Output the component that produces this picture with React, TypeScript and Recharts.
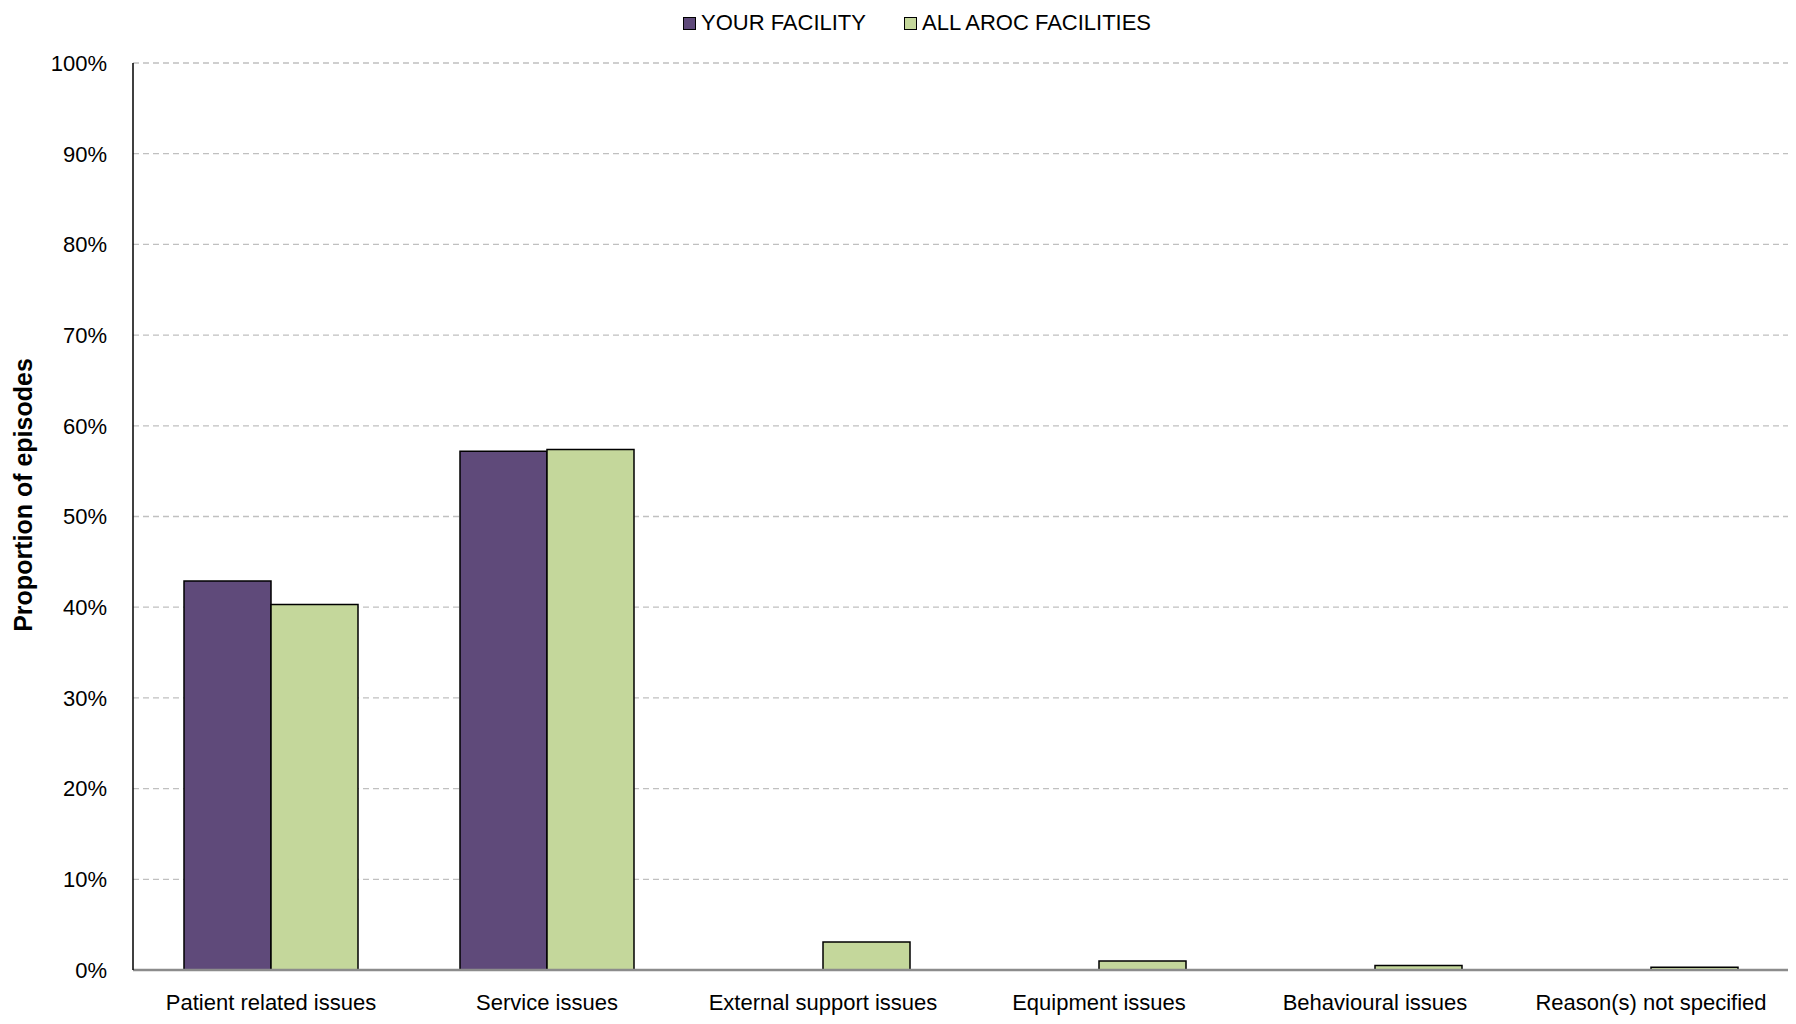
import React from 'react';
import { BarChart, Bar, XAxis, YAxis, CartesianGrid, Legend } from 'recharts';

const categories = [
  'Patient related issues',
  'Service issues',
  'External support issues',
  'Equipment issues',
  'Behavioural issues',
  'Reason(s) not specified',
];
const yourFacility = [42.9, 57.2, 0, 0, 0, 0];
const allFacilities = [40.3, 57.4, 3.1, 1.0, 0.5, 0.3];
const yTicks = [0, 10, 20, 30, 40, 50, 60, 70, 80, 90, 100];
const seriesNames = ['YOUR FACILITY', 'ALL AROC FACILITIES'];
const seriesColors = ['#5F4A7A', '#C4D79B'];

const data = categories.map((c, i) => ({ name: c, your: yourFacility[i], all: allFacilities[i] }));

const FONT = '"Liberation Sans Narrow", "Arial Narrow", "Liberation Sans", Arial, sans-serif';

const LegendContent = () => (
  <div style={{ display: 'flex', justifyContent: 'center', alignItems: 'center', fontFamily: FONT, fontSize: 22, color: '#000', paddingLeft: 30 }}>
    {seriesNames.map((n, i) => (
      <div key={n} style={{ display: 'flex', alignItems: 'center', marginRight: i === 0 ? 38 : 0 }}>
        <span style={{ display: 'inline-block', width: 11, height: 11, background: seriesColors[i], border: '1.5px solid #000', marginRight: 5 }} />
        <span>{n}</span>
      </div>
    ))}
  </div>
);

const YLabel = () => (
  <text
    x={24}
    y={487}
    transform="rotate(-90, 24, 487)"
    textAnchor="middle"
    fontFamily={FONT}
    fontWeight="bold"
    fontSize={25}
    fill="#000"
  >
    Proportion of episodes
  </text>
);

export default function App() {
  return (
    <BarChart
      width={1788}
      height={1016}
      data={data}
      margin={{ top: 55, right: 7, bottom: 0, left: 0 }}
      barCategoryGap={51}
      barGap={0}
    >
      <CartesianGrid vertical={false} stroke="#C0C0C0" strokeDasharray="6 4" strokeWidth={1.3} />
      <XAxis
        dataKey="name"
        height={54}
        tickSize={0}
        tickMargin={24}
        stroke="#8C8C8C"
        strokeWidth={2.5}
        tick={{ fontFamily: FONT, fontSize: 22, fill: '#000' }}
        interval={0}
      />
      <YAxis
        width={125}
        domain={[0, 100]}
        ticks={yTicks}
        tickFormatter={(v) => `${v}%`}
        tickSize={0}
        tickMargin={26}
        stroke="#000"
        strokeWidth={1.5}
        tick={{ fontFamily: FONT, fontSize: 22, fill: '#000' }}
        label={<YLabel />}
      />
      <Legend
        verticalAlign="middle"
        align="center"
        layout="horizontal"
        wrapperStyle={{ top: 2, left: 0, width: 1788 }}
        content={<LegendContent />}
      />
      <Bar dataKey="your" name={seriesNames[0]} fill={seriesColors[0]} stroke="#000" strokeWidth={1.5} isAnimationActive={false} />
      <Bar dataKey="all" name={seriesNames[1]} fill={seriesColors[1]} stroke="#000" strokeWidth={1.5} isAnimationActive={false} />
    </BarChart>
  );
}
